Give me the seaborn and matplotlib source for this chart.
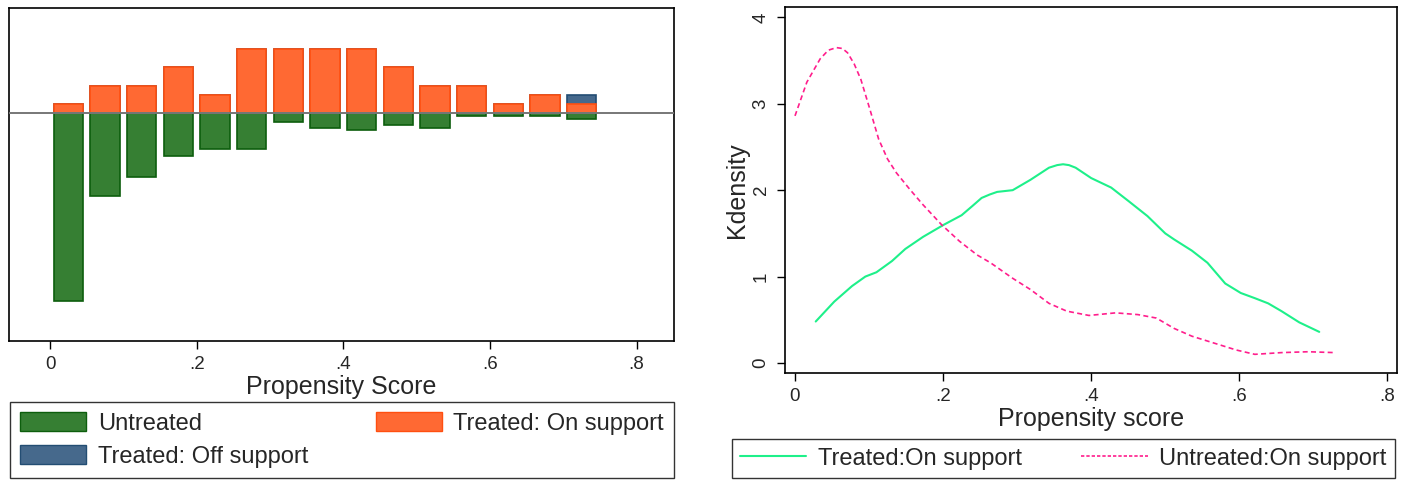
import numpy as np
import matplotlib
matplotlib.use("Agg")
import matplotlib.pyplot as plt
import seaborn as sns
from matplotlib.patches import Patch
from matplotlib.lines import Line2D

# --------------------------------------------------
# Data
# --------------------------------------------------

bin_centers = [0.025, 0.075, 0.125, 0.175, 0.225, 0.275, 0.325, 0.375,
               0.425, 0.475, 0.525, 0.575, 0.625, 0.675, 0.725]
treated_on = [1, 3, 3, 5, 2, 7, 7, 7, 7, 5, 3, 3, 1, 2, 1]
treated_off = [0, 0, 0, 0, 0, 0, 0, 0, 0, 0, 0, 0, 0, 0, 1]
untreated = [20.6, 9.1, 7.0, 4.7, 4.0, 4.0, 0.95, 1.7, 1.9, 1.3,
             1.7, 0.3, 0.3, 0.3, 0.7]

treated_x = [0.028, 0.053, 0.077, 0.095, 0.110, 0.131, 0.149, 0.173, 0.201,
             0.225, 0.240, 0.252, 0.263, 0.273, 0.294, 0.318, 0.343, 0.354,
             0.362, 0.370, 0.379, 0.400, 0.427, 0.451, 0.476, 0.500, 0.512,
             0.536, 0.557, 0.581, 0.602, 0.621, 0.639, 0.657, 0.681, 0.708]
treated_y = [0.48, 0.71, 0.89, 1.00, 1.05, 1.18, 1.32, 1.46, 1.60,
             1.71, 1.82, 1.91, 1.95, 1.98, 2.00, 2.12, 2.26, 2.29,
             2.30, 2.29, 2.26, 2.14, 2.03, 1.87, 1.70, 1.50, 1.43,
             1.30, 1.16, 0.92, 0.81, 0.75, 0.69, 0.60, 0.47, 0.36]

untreated_x = [0.0, 0.016, 0.034, 0.045, 0.056, 0.064, 0.071, 0.080, 0.089,
               0.101, 0.113, 0.125, 0.137, 0.155, 0.173, 0.198, 0.222, 0.246,
               0.264, 0.294, 0.318, 0.343, 0.367, 0.397, 0.433, 0.463, 0.488,
               0.512, 0.536, 0.566, 0.596, 0.621, 0.657, 0.693, 0.729]
untreated_y = [2.86, 3.25, 3.52, 3.62, 3.65, 3.64, 3.59, 3.46, 3.28,
               2.94, 2.59, 2.36, 2.20, 2.01, 1.83, 1.60, 1.41, 1.25,
               1.16, 0.98, 0.85, 0.69, 0.60, 0.55, 0.58, 0.56, 0.52,
               0.40, 0.31, 0.23, 0.15, 0.10, 0.12, 0.13, 0.12]

x_ticks = [0, 0.2, 0.4, 0.6, 0.8]
x_tick_labels = ["0", ".2", ".4", ".6", ".8"]
y_ticks = [0, 1, 2, 3, 4]

# --------------------------------------------------
# Style
# --------------------------------------------------

sns.set_theme(style="white")
plt.rcParams["font.family"] = ["Liberation Sans", "DejaVu Sans"]

GREEN = "#367f33"
GREEN_EDGE = "#0d5e0d"
ORANGE = "#ff6933"
ORANGE_EDGE = "#ff4f10"
BLUE = "#46698c"
BLUE_EDGE = "#234d73"
LINE_GREEN = "#1ef08a"
LINE_PINK = "#ff1e8c"

LABEL_SIZE = 18
TICK_SIZE = 13.5
LEGEND_SIZE = 17

fig = plt.figure(figsize=(14.01, 4.8), dpi=100)

ax1 = fig.add_axes([9 / 1401, 139 / 480, 665 / 1401, 333 / 480])
ax2 = fig.add_axes([785 / 1401, 107 / 480, 612 / 1401, 366 / 480])

# --------------------------------------------------
# Left: mirrored histogram
# --------------------------------------------------

treated_total = [a + b for a, b in zip(treated_on, treated_off)]
neg_untreated = [-v for v in untreated]

sns.barplot(x=bin_centers, y=treated_total, native_scale=True, ax=ax1,
            color=BLUE, saturation=1, edgecolor=BLUE_EDGE, linewidth=1.2,
            width=0.8, errorbar=None)
sns.barplot(x=bin_centers, y=treated_on, native_scale=True, ax=ax1,
            color=ORANGE, saturation=1, edgecolor=ORANGE_EDGE, linewidth=1.2,
            width=0.8, errorbar=None)
sns.barplot(x=bin_centers, y=neg_untreated, native_scale=True, ax=ax1,
            color=GREEN, saturation=1, edgecolor=GREEN_EDGE, linewidth=1.2,
            width=0.8, errorbar=None)

ax1.axhline(0, color="#777777", linewidth=1.4, zorder=5)
ax1.set_xlim(-0.056, 0.851)
ax1.set_ylim(-25.0, 11.5)
ax1.set_yticks([])
ax1.set_xticks(x_ticks)
ax1.set_xticklabels(x_tick_labels)
ax1.set_xlabel("Propensity Score", fontsize=LABEL_SIZE, labelpad=1)
ax1.set_ylabel("")

# --------------------------------------------------
# Right: kernel densities
# --------------------------------------------------

sns.lineplot(x=treated_x, y=treated_y, ax=ax2, color=LINE_GREEN,
             linewidth=1.5, sort=False)
sns.lineplot(x=untreated_x, y=untreated_y, ax=ax2, color=LINE_PINK,
             linewidth=1.2, linestyle=(0, (3, 2)), sort=False)

ax2.set_xlim(-0.0135, 0.813)
ax2.set_ylim(-0.116, 4.12)
ax2.set_xticks(x_ticks)
ax2.set_xticklabels(x_tick_labels)
ax2.set_yticks(y_ticks)
ax2.set_yticklabels([str(t) for t in y_ticks], rotation=90, va="center")
ax2.set_xlabel("Propensity score", fontsize=LABEL_SIZE, labelpad=1)
ax2.set_ylabel("Kdensity", fontsize=LABEL_SIZE, labelpad=3)

for ax in (ax1, ax2):
    for sp in ax.spines.values():
        sp.set_color("black")
        sp.set_linewidth(1.2)
    ax.tick_params(axis="both", which="both", direction="out", length=6,
                   width=1, color="black", labelsize=TICK_SIZE, bottom=True,
                   left=(ax is ax2), pad=5)

# --------------------------------------------------
# Legends
# --------------------------------------------------

left_handles = [
    Patch(facecolor=GREEN, edgecolor=GREEN_EDGE, label="Untreated"),
    Patch(facecolor=BLUE, edgecolor=BLUE_EDGE, label="Treated: Off support"),
    Patch(facecolor=ORANGE, edgecolor=ORANGE_EDGE, label="Treated: On support"),
]
leg1 = fig.legend(handles=left_handles, ncol=2, loc="lower left",
                  bbox_to_anchor=(10 / 1401, 2 / 480, 664 / 1401, 76 / 480),
                  mode="expand", fontsize=LEGEND_SIZE, frameon=True,
                  fancybox=False, edgecolor="black", handlelength=2.8,
                  handleheight=0.85, borderpad=0.42, labelspacing=0.45,
                  handletextpad=0.5, borderaxespad=0)
leg1.get_frame().set_linewidth(1.0)

right_handles = [
    Line2D([0], [0], color=LINE_GREEN, linewidth=1.5, label="Treated:On support"),
    Line2D([0], [0], color=LINE_PINK, linewidth=1.2, linestyle=(0, (2, 1.2)),
           label="Untreated:On support"),
]
leg2 = fig.legend(handles=right_handles, ncol=2, loc="lower left",
                  bbox_to_anchor=(732 / 1401, 2 / 480, 663 / 1401, 41 / 480),
                  mode="expand", fontsize=LEGEND_SIZE, frameon=True,
                  fancybox=False, edgecolor="black", handlelength=2.8,
                  borderpad=0.35, handletextpad=0.5, borderaxespad=0)
leg2.get_frame().set_linewidth(1.0)

fig.savefig("out.png", dpi=100)
